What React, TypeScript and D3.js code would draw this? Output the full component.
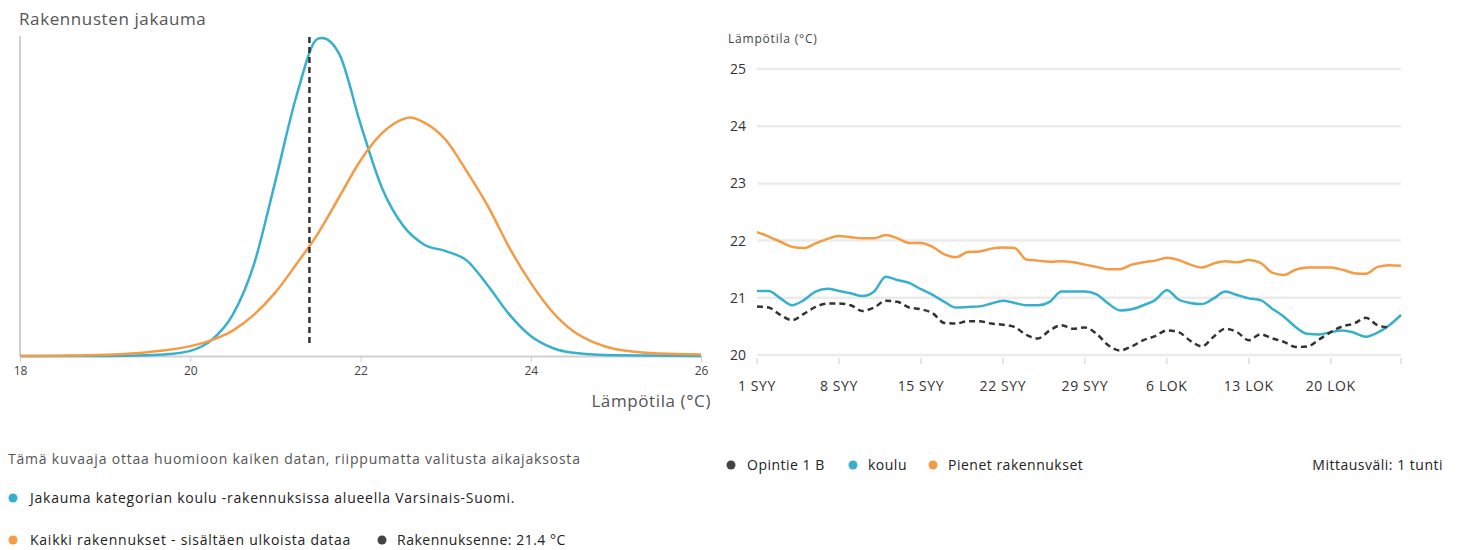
import React, { useEffect, useRef } from "react";
import * as d3 from "d3";

// ---- left chart: distribution of buildings ----
const distTemps = [18, 19, 19.5, 19.75, 20, 20.25, 20.5, 20.75, 21, 21.25, 21.5, 21.55, 21.75, 22, 22.25, 22.5, 22.75, 23, 23.25, 23.5, 23.75, 24, 24.25, 24.5, 25, 26];
const schoolDensity = [0, 0, 0.002, 0.006, 0.016, 0.05, 0.13, 0.29, 0.55, 0.82, 0.998, 1, 0.95, 0.73, 0.53, 0.41, 0.35, 0.33, 0.3, 0.22, 0.13, 0.063, 0.026, 0.01, 0.002, 0];
const allTemps = [18, 18.5, 19, 19.5, 20, 20.25, 20.5, 20.75, 21, 21.25, 21.5, 21.75, 22, 22.25, 22.5, 22.58, 22.75, 23, 23.25, 23.5, 23.75, 24, 24.25, 24.5, 24.75, 25, 25.5, 26];
const allDensity = [0, 0.001, 0.004, 0.012, 0.031, 0.05, 0.08, 0.13, 0.2, 0.29, 0.385, 0.5, 0.615, 0.7, 0.745, 0.75, 0.734, 0.68, 0.58, 0.47, 0.34, 0.23, 0.14, 0.078, 0.042, 0.021, 0.008, 0.005];
const ownBuildingTemp = 21.4;
const distTicks = [18, 20, 22, 24, 26];

// ---- right chart: daily temperatures from 1 Sep ----
const startDate = new Date(2023, 8, 1);
const endDate = new Date(2023, 9, 26);
const opintie = [20.85, 20.83, 20.7, 20.61, 20.72, 20.84, 20.9, 20.9, 20.87, 20.77, 20.83, 20.95, 20.93, 20.83, 20.8, 20.73, 20.56, 20.55, 20.59, 20.59, 20.55, 20.53, 20.49, 20.35, 20.29, 20.43, 20.52, 20.46, 20.48, 20.37, 20.17, 20.08, 20.15, 20.26, 20.33, 20.43, 20.4, 20.25, 20.15, 20.32, 20.46, 20.4, 20.26, 20.36, 20.29, 20.23, 20.14, 20.15, 20.27, 20.4, 20.5, 20.55, 20.65, 20.52, 20.48];
const koulu = [21.12, 21.12, 20.99, 20.87, 20.96, 21.11, 21.16, 21.12, 21.08, 21.03, 21.11, 21.37, 21.31, 21.26, 21.15, 21.05, 20.93, 20.83, 20.84, 20.85, 20.9, 20.95, 20.91, 20.87, 20.87, 20.93, 21.11, 21.11, 21.11, 21.06, 20.9, 20.78, 20.8, 20.87, 20.96, 21.13, 20.97, 20.91, 20.89, 20.99, 21.11, 21.05, 20.99, 20.96, 20.81, 20.67, 20.49, 20.37, 20.36, 20.4, 20.43, 20.39, 20.32, 20.39, 20.52, 20.7];
const pienet = [22.15, 22.07, 21.98, 21.89, 21.87, 21.95, 22.03, 22.08, 22.06, 22.04, 22.04, 22.1, 22.04, 21.96, 21.96, 21.89, 21.76, 21.71, 21.8, 21.81, 21.86, 21.88, 21.87, 21.67, 21.65, 21.63, 21.64, 21.62, 21.58, 21.54, 21.5, 21.5, 21.58, 21.62, 21.65, 21.7, 21.66, 21.58, 21.53, 21.6, 21.64, 21.62, 21.66, 21.61, 21.44, 21.4, 21.49, 21.53, 21.53, 21.53, 21.49, 21.43, 21.42, 21.54, 21.57, 21.56];
const yTicks = [20, 21, 22, 23, 24, 25];
const xTickDates = [new Date(2023, 8, 1), new Date(2023, 8, 8), new Date(2023, 8, 15), new Date(2023, 8, 22), new Date(2023, 8, 29), new Date(2023, 9, 6), new Date(2023, 9, 13), new Date(2023, 9, 20)];
const xTickLabels = ["1 SYY", "8 SYY", "15 SYY", "22 SYY", "29 SYY", "6 LOK", "13 LOK", "20 LOK"];

const BLUE = "#36b0cc";
const ORANGE = "#f39b45";
const DARK = "#444444";
const FONT = "'Open Sans', Lato, sans-serif";

const App: React.FC = () => {
  const svgRef = useRef<SVGSVGElement>(null);

  useEffect(() => {
    const svg = d3.select(svgRef.current);
    svg.selectAll("*").remove();

    // left chart
    const xL = d3.scaleLinear().domain([18, 26]).range([20, 701]);
    const yL = d3.scaleLinear().domain([0, 1]).range([356, 38]);

    const gx = svg
      .append("g")
      .attr("transform", "translate(0,356)")
      .call(d3.axisBottom(xL).tickValues(distTicks).tickSize(6).tickSizeOuter(0).tickPadding(4));
    gx.select(".domain").attr("stroke", "#d0d0d0").attr("stroke-width", 2);
    gx.selectAll(".tick line").attr("stroke", "#d0d0d0");
    gx.selectAll("text").attr("fill", "#444").style("font", `12px ${FONT}`);

    svg.append("line").attr("x1", 20).attr("x2", 20).attr("y1", 36).attr("y2", 356).attr("stroke", "#d0d0d0").attr("stroke-width", 2);

    const distLine = d3
      .line<number>()
      .curve(d3.curveMonotoneX);

    svg
      .append("path")
      .attr("d", distLine.x((d) => xL(d)).y((_, i) => yL(schoolDensity[i]))(distTemps))
      .attr("fill", "none")
      .attr("stroke", BLUE)
      .attr("stroke-width", 2.5);
    svg
      .append("path")
      .attr("d", distLine.x((d) => xL(d)).y((_, i) => yL(allDensity[i]))(allTemps))
      .attr("fill", "none")
      .attr("stroke", ORANGE)
      .attr("stroke-width", 2.5);

    svg
      .append("line")
      .attr("x1", xL(ownBuildingTemp))
      .attr("x2", xL(ownBuildingTemp))
      .attr("y1", yL(1) - 1)
      .attr("y2", 347)
      .attr("stroke", "#333")
      .attr("stroke-width", 2.5)
      .attr("stroke-dasharray", "6,4");

    // right chart
    const xR = d3.scaleTime().domain([startDate, endDate]).range([757, 1401]);
    const yR = d3.scaleLinear().domain([20, 25]).range([355, 69]);
    const dayAt = (i: number) => d3.timeDay.offset(startDate, i);

    svg
      .append("g")
      .selectAll("line")
      .data(yTicks)
      .join("line")
      .attr("x1", 757)
      .attr("x2", 1401)
      .attr("y1", (d) => yR(d))
      .attr("y2", (d) => yR(d))
      .attr("stroke", "#ebebeb")
      .attr("stroke-width", 2.5);

    svg
      .append("g")
      .selectAll("text")
      .data(yTicks)
      .join("text")
      .attr("x", 746)
      .attr("y", (d) => yR(d))
      .attr("dy", "0.35em")
      .attr("text-anchor", "end")
      .attr("fill", "#333")
      .style("font", `14px ${FONT}`)
      .text((d) => d);

    svg
      .append("g")
      .selectAll("line")
      .data([...xTickDates, endDate])
      .join("line")
      .attr("x1", (d) => xR(d))
      .attr("x2", (d) => xR(d))
      .attr("y1", 358)
      .attr("y2", 364)
      .attr("stroke", "#dddddd")
      .attr("stroke-width", 1.5);

    svg
      .append("g")
      .selectAll("text")
      .data(xTickDates)
      .join("text")
      .attr("x", (d) => xR(d))
      .attr("y", 391)
      .attr("text-anchor", "middle")
      .attr("fill", "#333")
      .style("font", `14px ${FONT}`)
      .style("letter-spacing", "0.6px")
      .text((_, i) => xTickLabels[i]);

    const tempLine = d3
      .line<number>()
      .x((_, i) => xR(dayAt(i)))
      .y((d) => yR(d))
      .curve(d3.curveMonotoneX);

    svg.append("path").attr("d", tempLine(pienet)).attr("fill", "none").attr("stroke", ORANGE).attr("stroke-width", 2.5);
    svg.append("path").attr("d", tempLine(koulu)).attr("fill", "none").attr("stroke", BLUE).attr("stroke-width", 2.5);
    svg
      .append("path")
      .attr("d", tempLine(opintie))
      .attr("fill", "none")
      .attr("stroke", "#333")
      .attr("stroke-width", 2.5)
      .attr("stroke-dasharray", "6,4");
  }, []);

  const legendText = { fontFamily: FONT, fontSize: 14, fill: "#222", letterSpacing: 0.75 };
  const shortText = { fontFamily: FONT, fontSize: 14, fill: "#222", letterSpacing: 0.5 };

  return (
    <div style={{ position: "absolute", left: 0, top: 0, width: 1461, height: 550, background: "#fff" }}>
      <svg ref={svgRef} width={1461} height={550} style={{ position: "absolute", left: 0, top: 0 }} />
      <svg width={1461} height={550} style={{ position: "absolute", left: 0, top: 0, pointerEvents: "none" }}>
        <text x={19} y={25} fontFamily={FONT} fontSize={17} fill="#555" letterSpacing={0.6}>
          Rakennusten jakauma
        </text>
        <text x={711} y={407} textAnchor="end" fontFamily={FONT} fontSize={17} fill="#555" letterSpacing={0.6}>
          Lämpötila (°C)
        </text>
        <text x={728} y={43} fontFamily={FONT} fontSize={12} fill="#444" letterSpacing={0.8}>
          Lämpötila (°C)
        </text>

        <text x={8} y={464} fontFamily={FONT} fontSize={14} fill="#555" letterSpacing={0.8}>
          Tämä kuvaaja ottaa huomioon kaiken datan, riippumatta valitusta aikajaksosta
        </text>
        <circle cx={13} cy={498} r={4.5} fill={BLUE} />
        <text x={30} y={503} {...legendText}>
          Jakauma kategorian koulu -rakennuksissa alueella Varsinais-Suomi.
        </text>
        <circle cx={13} cy={540} r={4.5} fill={ORANGE} />
        <text x={30} y={545} {...legendText}>
          Kaikki rakennukset - sisältäen ulkoista dataa
        </text>
        <circle cx={382} cy={540} r={4.5} fill={DARK} />
        <text x={397} y={545} {...shortText}>
          Rakennuksenne: 21.4 °C
        </text>

        <circle cx={731} cy={465} r={4.5} fill={DARK} />
        <text x={747} y={470} {...shortText}>
          Opintie 1 B
        </text>
        <circle cx={853} cy={465} r={4.5} fill={BLUE} />
        <text x={868} y={470} {...shortText}>
          koulu
        </text>
        <circle cx={933} cy={465} r={4.5} fill={ORANGE} />
        <text x={948} y={470} {...shortText}>
          Pienet rakennukset
        </text>
        <text x={1443} y={470} textAnchor="end" {...shortText}>
          Mittausväli: 1 tunti
        </text>
      </svg>
    </div>
  );
};

export default App;
